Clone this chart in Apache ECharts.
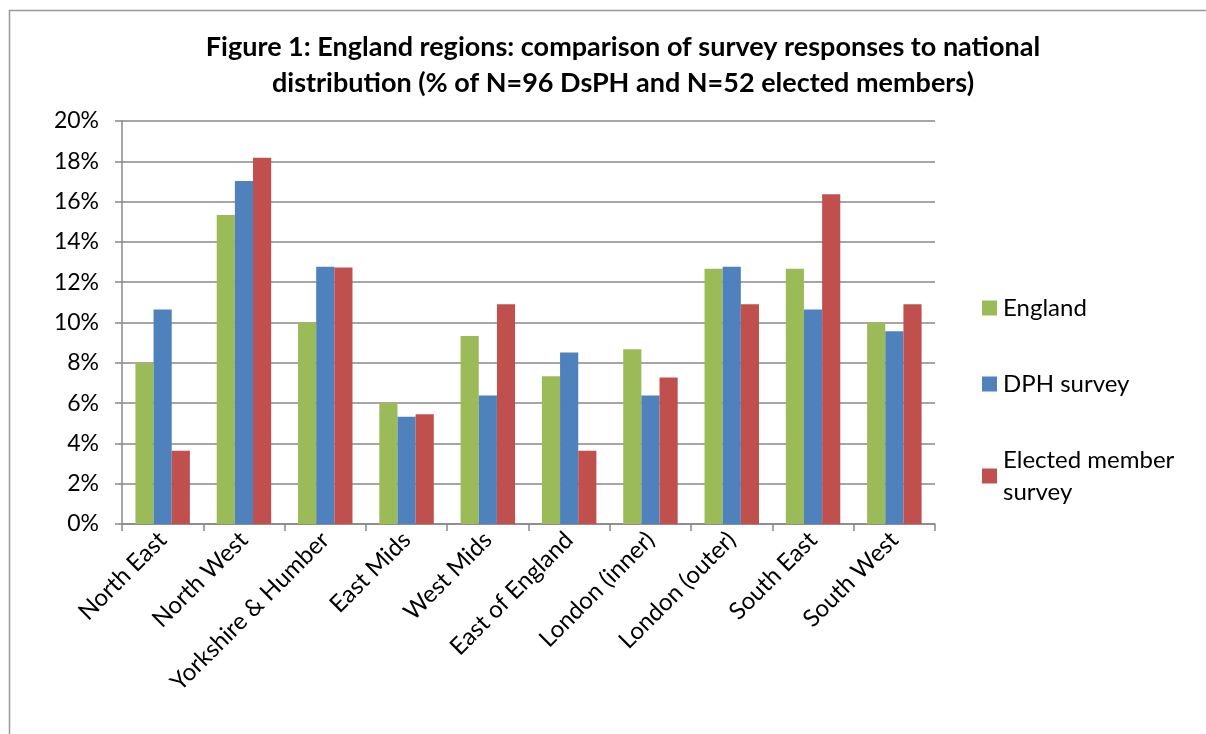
<!DOCTYPE html>
<html><head><meta charset="utf-8">
<script src="https://cdn.jsdelivr.net/npm/echarts@6/dist/echarts.min.js"></script>
<style>html,body{margin:0;padding:0;background:#fff}#c{width:1206px;height:734px}</style>
</head><body><div id="c"></div>
<script>
const categories = ["North East","North West","Yorkshire & Humber","East Mids","West Mids","East of England","London (inner)","London (outer)","South East","South West"];
const england = [8.00,15.33,10.00,6.00,9.33,7.33,8.67,12.67,12.67,10.00];
const dph = [10.64,17.02,12.77,5.32,6.38,8.51,6.38,12.77,10.64,9.57];
const elected = [3.64,18.18,12.73,5.45,10.91,3.64,7.27,10.91,16.36,10.91];
const seriesNames = ["England","DPH survey","Elected member survey"];
const colors = ["#9BBB59","#4F81BD","#C0504D"];
const fontFam = "Lato, 'Open Sans', sans-serif";

const chart = echarts.init(document.getElementById('c'));
const mk = (name, data, color) => ({
  name, type:'bar', data, barGap:'0%', barCategoryGap:'33%',
  itemStyle:{color}, emphasis:{disabled:true}
});
chart.setOption({
  animation:false,
  textStyle:{fontFamily:fontFam, color:'#000'},
  graphic:[{type:'rect', shape:{x:9.5,y:10.5,width:1210,height:740}, style:{fill:'none',stroke:'#999',lineWidth:1.5}, silent:true}],
  title:{
    text:'Figure 1: England regions: comparison of survey responses to national\ndistribution (% of N=96 DsPH and N=52 elected members)',
    left:618, textAlign:'center', top:24,
    textStyle:{fontSize:27, fontWeight:'bold', lineHeight:36, fontFamily:fontFam, color:'#000'}
  },
  legend:{
    orient:'vertical', left:977, top:287, itemWidth:15, itemHeight:15, itemGap:44,
    icon:'rect',
    data:seriesNames,
    formatter: n => n === 'Elected member survey' ? 'Elected member\nsurvey' : n,
    textStyle:{fontSize:24, lineHeight:32, fontFamily:fontFam, color:'#000', padding:[0,0,0,1]}
  },
  grid:{left:122, right:271, top:121, bottom:210, containLabel:false},
  xAxis:{
    type:'category', data:categories,
    axisLine:{lineStyle:{color:'#888', width:1.5}},
    axisTick:{show:true, alignWithLabel:false, length:7, lineStyle:{color:'#888', width:1.5}},
    axisLabel:{rotate:45, fontSize:24, color:'#000', fontFamily:fontFam, margin:12, interval:0}
  },
  yAxis:{
    type:'value', min:0, max:20, interval:2,
    axisLine:{show:true, lineStyle:{color:'#888', width:1.5}},
    axisTick:{show:true, inside:false, length:7, lineStyle:{color:'#888', width:1.5}},
    splitLine:{lineStyle:{color:'#888', width:1.5}},
    axisLabel:{formatter:'{value}%', fontSize:23, color:'#000', fontFamily:fontFam, margin:23}
  },
  series:[mk(seriesNames[0], england, colors[0]), mk(seriesNames[1], dph, colors[1]), mk(seriesNames[2], elected, colors[2])]
});
</script></body></html>
